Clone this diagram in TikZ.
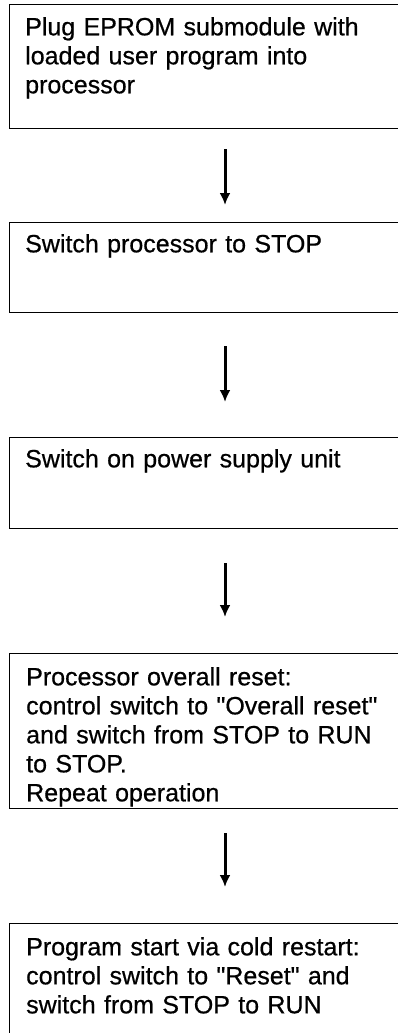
\documentclass[tikz,border=0pt]{standalone}
\usepackage{fontspec}
\setmainfont{Liberation Sans}[FakeBold=0.6]
\usetikzlibrary{arrows.meta}
\tikzset{
  stepbox/.style={draw=black, line width=1.1pt, anchor=north west, minimum width=420pt, inner sep=0pt},
  steptext/.style={anchor=north west, inner sep=0pt, align=left, text width=370pt,
    font=\fontsize{25pt}{29pt}\selectfont},
  arr/.style={line width=3pt, -{Latex[length=12pt,width=11pt]}}
}
\begin{document}
\begin{tikzpicture}[x=1pt,y=-1pt]
\useasboundingbox (0,0) rectangle (398,1033);
\clip (0,0) rectangle (398,1033);
\fill[white] (0,0) rectangle (398,1033);
\coordinate (ax) at (225,0);
\node[stepbox, minimum height=124pt] (b1) at (9,4) {};
\node[stepbox, minimum height=90pt] (b2) at (9,222) {};
\node[stepbox, minimum height=91pt] (b3) at (9,437) {};
\node[stepbox, minimum height=155pt] (b4) at (9,653) {};
\node[stepbox, minimum height=140pt] (b5) at (9,923) {};
\node[steptext] (t1) at (25,17) {Plug EPROM submodule with\\loaded user program into\\processor};
\node[steptext] (t2) at (25,234) {Switch processor to STOP};
\node[steptext] (t3) at (25,449) {Switch on power supply unit};
\node[steptext] (t4) at (26,667) {Processor overall reset:\\control switch to \textquotedbl Overall reset\textquotedbl\\and switch from STOP to RUN\\to STOP.\\Repeat operation};
\node[steptext] (t5) at (26,937) {Program start via cold restart:\\control switch to \textquotedbl Reset\textquotedbl{} and\\switch from STOP to RUN};
\draw[arr, shorten <=20pt, shorten >=17pt] (b1.south -| ax) -- (b2.north -| ax);
\draw[arr, shorten <=33pt, shorten >=35pt] (b2.south -| ax) -- (b3.north -| ax);
\draw[arr, shorten <=34pt, shorten >=36pt] (b3.south -| ax) -- (b4.north -| ax);
\draw[arr, shorten <=24pt, shorten >=36pt] (b4.south -| ax) -- (b5.north -| ax);
\end{tikzpicture}
\end{document}
